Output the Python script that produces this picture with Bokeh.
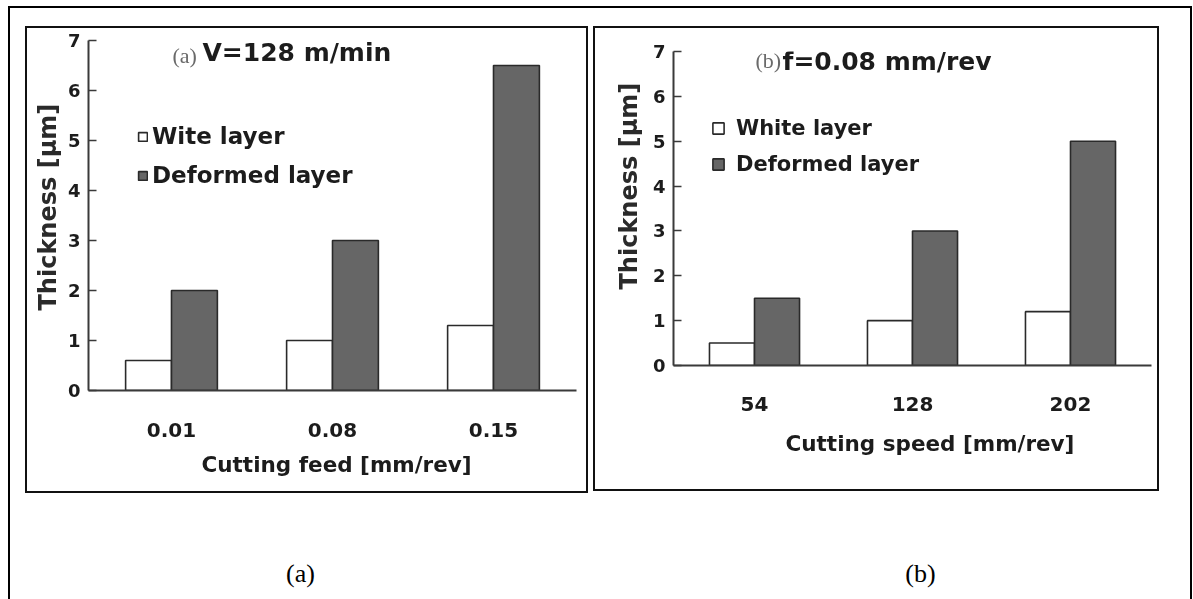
from bokeh.embed import file_html
from bokeh.layouts import column, row
from bokeh.models import (FactorRange, FixedTicker, Label, Legend, LegendItem, Range1d,
                          Title)
from bokeh.plotting import figure
from bokeh.resources import INLINE
from bokeh.transform import dodge

# ---- data -------------------------------------------------------------
feed_cats = ["0.01", "0.08", "0.15"]
feed_white = [0.6, 1.0, 1.3]
feed_deformed = [2.0, 3.0, 6.5]

speed_cats = ["54", "128", "202"]
speed_white = [0.5, 1.0, 1.2]
speed_deformed = [1.5, 3.0, 5.0]

thickness_ticks = [0, 1, 2, 3, 4, 5, 6, 7]

# ---- styling ------------------------------------------------------------
SANS = "DejaVu Sans"
SERIF = "Liberation Serif"
INK = "#1c1c1c"
DARK = "#666666"
EDGE = "#2a2a2a"
AXIS = "#3a3a3a"
BAR_W = 0.285
SOFT = {"filter": "blur(0.5px)"}


def bar_panel(cats, white, deformed, white_name, *, width, height, left, right, top, bottom,
              pad, tag, heading, tag_x, tag_y, heading_x, heading_y, legend_loc,
              legend_spacing, legend_size, glyph, glyph_gap, xtitle, xtitle_offset,
              xtitle_standoff, ytitle_offset, ytitle_standoff, tick_standoff):
    p = figure(width=width, height=height,
               x_range=FactorRange(*cats, range_padding=pad, range_padding_units="absolute"),
               y_range=Range1d(0, 7),
               output_backend="svg", toolbar_location=None,
               min_border_left=left, min_border_right=right,
               min_border_top=top, min_border_bottom=bottom,
               outline_line_color=None, background_fill_color="white",
               border_fill_color="white", styles=SOFT)
    p.xgrid.visible = False
    p.ygrid.visible = False

    src = {"cat": cats, "white": white, "deformed": deformed}
    r_white = p.vbar(x=dodge("cat", -BAR_W / 2, range=p.x_range), top="white", width=BAR_W,
                     source=src, fill_color="white", line_color=EDGE, line_width=1.6)
    r_def = p.vbar(x=dodge("cat", BAR_W / 2, range=p.x_range), top="deformed", width=BAR_W,
                   source=src, fill_color=DARK, line_color=EDGE, line_width=1.6)

    # y axis: ticks pointing inward, bold numbers
    ya = p.yaxis[0]
    ya.ticker = FixedTicker(ticks=thickness_ticks)
    ya.axis_line_color = AXIS
    ya.axis_line_width = 2
    ya.major_tick_in = 8
    ya.major_tick_out = 0
    ya.major_tick_line_color = AXIS
    ya.major_tick_line_width = 1.5
    ya.minor_tick_in = 0
    ya.minor_tick_out = 0
    ya.major_label_standoff = 8
    ya.major_label_text_font = SANS
    ya.major_label_text_font_style = "bold"
    ya.major_label_text_font_size = "18px"
    ya.major_label_text_color = INK

    # x axis: plain baseline with category names below
    xa = p.xaxis[0]
    xa.axis_line_color = AXIS
    xa.axis_line_width = 2
    xa.major_tick_in = 0
    xa.major_tick_out = 0
    xa.major_label_standoff = tick_standoff
    xa.major_label_text_font = SANS
    xa.major_label_text_font_style = "bold"
    xa.major_label_text_font_size = "20px"
    xa.major_label_text_color = INK

    legend = Legend(items=[LegendItem(label=white_name, renderers=[r_white]),
                           LegendItem(label="Deformed layer", renderers=[r_def])],
                    location=legend_loc, orientation="vertical",
                    padding=0, margin=0, spacing=legend_spacing,
                    glyph_width=glyph, glyph_height=glyph, label_standoff=glyph_gap,
                    label_height=16,
                    label_text_font=SANS, label_text_font_style="bold",
                    label_text_font_size=legend_size, label_text_color=INK,
                    border_line_color=None, background_fill_alpha=0)
    p.add_layout(legend)

    # panel heading: serif tag followed by the bold condition
    p.add_layout(Label(x=tag_x, y=tag_y, x_units="screen", y_units="screen", text=tag,
                       text_font=SERIF, text_font_size="22px", text_color="#6a6a6a",
                       text_baseline="middle", text_align="left"))
    p.add_layout(Label(x=heading_x, y=heading_y, x_units="screen", y_units="screen", text=heading,
                       text_font=SANS, text_font_style="bold", text_font_size="25px",
                       text_color=INK, text_baseline="middle", text_align="left"))

    # axis titles
    p.add_layout(Title(text=xtitle, align="left", offset=xtitle_offset,
                       standoff=xtitle_standoff, text_font=SANS, text_font_style="bold",
                       text_font_size="21.5px", text_color=INK), "below")
    p.add_layout(Title(text="Thickness  [µm]", align="left", offset=ytitle_offset,
                       standoff=ytitle_standoff, text_font=SANS, text_font_style="bold",
                       text_font_size="24px", text_color="#2a2a2a"), "left")
    return p


pa = bar_panel(feed_cats, feed_white, feed_deformed, "Wite layer",
               width=559, height=463, left=61, right=10, top=12, bottom=101, pad=0.0155,
               tag="(a)", heading="V=128 m/min", tag_x=84, tag_y=335, heading_x=114,
               heading_y=338, legend_loc=(49, 202), legend_spacing=13, legend_size="23px",
               glyph=11, glyph_gap=4,
               xtitle="Cutting feed [mm/rev]", xtitle_offset=113, xtitle_standoff=21,
               ytitle_offset=80, ytitle_standoff=5, tick_standoff=32)

pb = bar_panel(speed_cats, speed_white, speed_deformed, "White layer",
               width=562, height=461, left=78, right=6, top=23, bottom=124, pad=0.0127,
               tag="(b)", heading="f=0.08 mm/rev", tag_x=82, tag_y=305, heading_x=109,
               heading_y=304, legend_loc=(38, 189), legend_spacing=12, legend_size="21px",
               glyph=14, glyph_gap=11,
               xtitle="Cutting speed [mm/rev]", xtitle_offset=112, xtitle_standoff=30,
               ytitle_offset=76, ytitle_standoff=14, tick_standoff=31)

box_a = column(pa, styles={"border": "2px solid #111111"}, margin=(18, 0, 0, 15))
box_b = column(pb, styles={"border": "2px solid #111111"}, margin=(18, 0, 0, 5))

# sub-figure captions
cap = figure(width=1180, height=106, x_range=Range1d(0, 1180), y_range=Range1d(0, 106),
             x_axis_type=None, y_axis_type=None, output_backend="svg", toolbar_location=None,
             min_border=0, outline_line_color=None)
cap.grid.visible = False
for cx, txt in [(290, "(a)"), (910, "(b)")]:
    cap.add_layout(Label(x=cx, y=26, x_units="screen", y_units="screen", text=txt,
                         text_font=SERIF, text_font_size="26px", text_color="#000000",
                         text_align="center", text_baseline="middle"))

page = column(row(box_a, box_b), cap,
              styles={"border": "2px solid #000000", "border-bottom": "none"},
              margin=(6, 0, 0, 8))

open("out.html", "w").write(file_html(page, INLINE))
